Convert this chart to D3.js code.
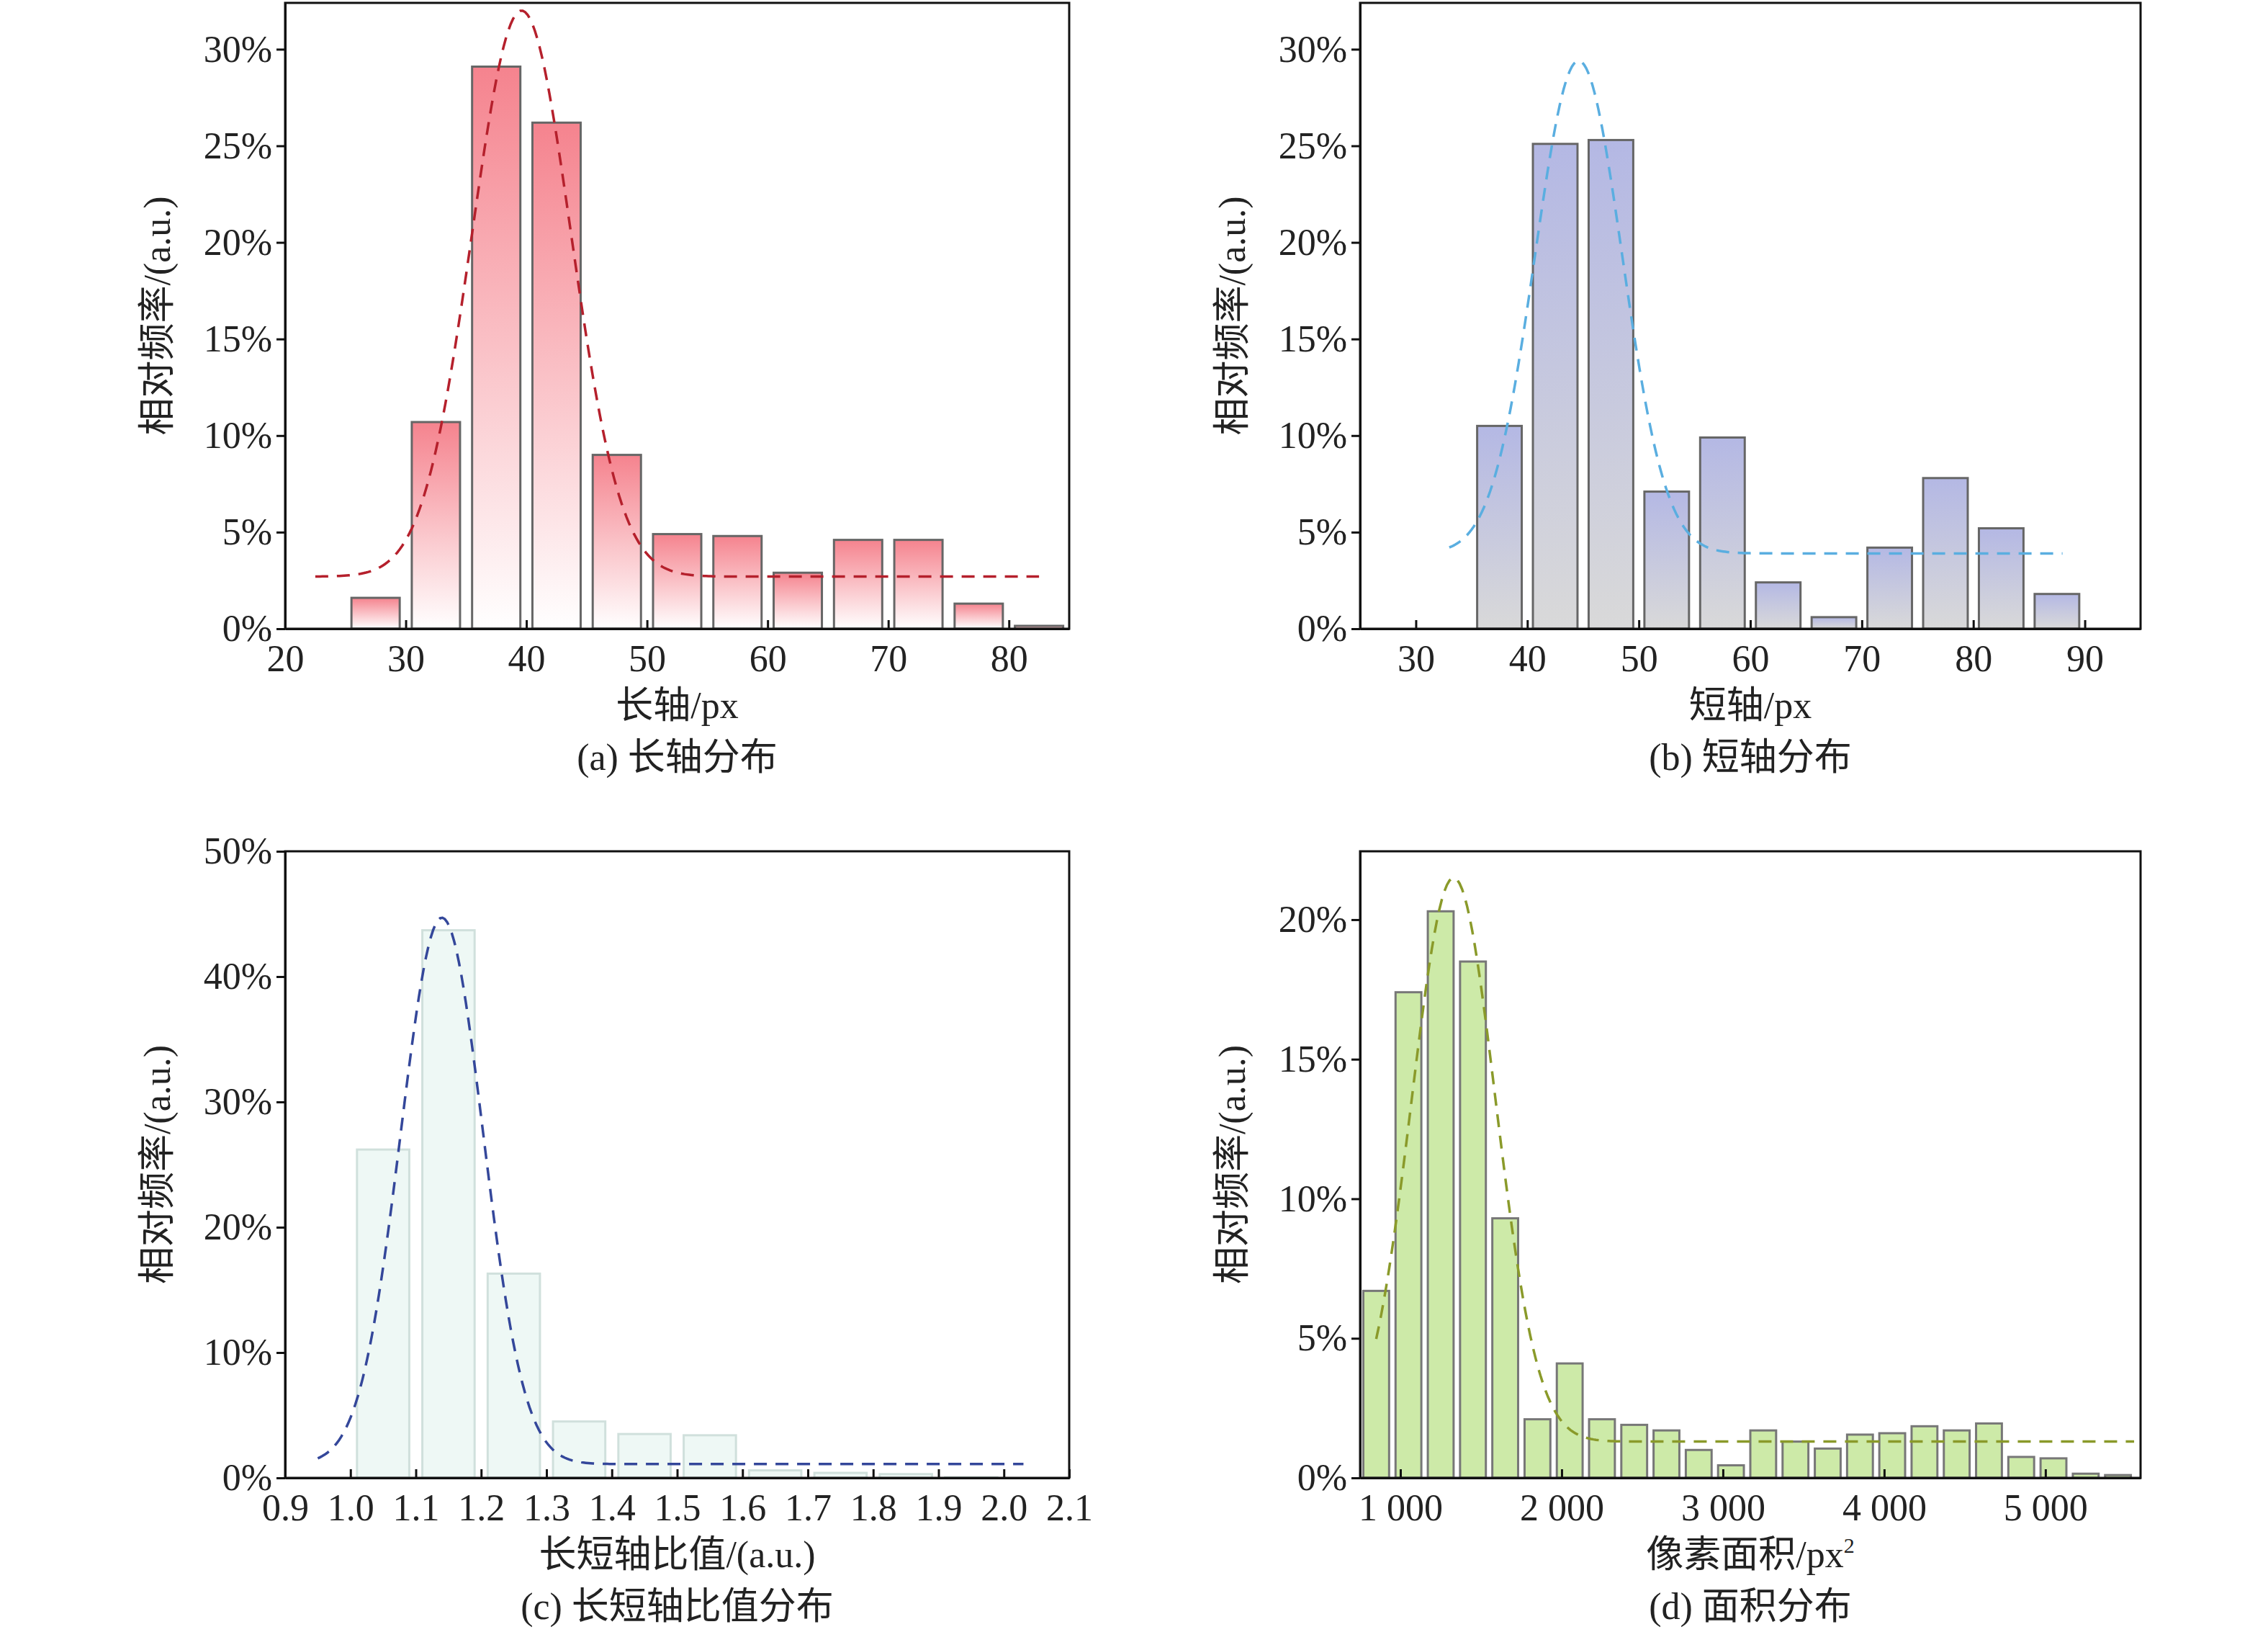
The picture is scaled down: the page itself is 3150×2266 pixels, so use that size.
<!DOCTYPE html>
<html><head><meta charset="utf-8">
<script src="https://cdn.jsdelivr.net/npm/d3@7"></script>
<style>body{margin:0;background:#fff}text{font-family:"Liberation Serif","Noto Sans CJK SC",serif;fill:#222}</style>
</head><body>
<svg id="c" width="3150" height="2266"></svg>
<script>
// relative frequency (%) per bin
const longStart = 25, longBin = 5;
const longVals = [1.6, 10.7, 29.1, 26.2, 9.0, 4.9, 4.8, 2.9, 4.6, 4.6, 1.3, 0.15];
const shortStart = 35, shortBin = 5;
const shortVals = [10.5, 25.1, 25.3, 7.1, 9.9, 2.4, 0.6, 4.2, 7.8, 5.2, 1.8];
const ratioStart = 1.0, ratioBin = 0.1;
const ratioVals = [26.2, 43.7, 16.3, 4.5, 3.5, 3.4, 0.6, 0.4, 0.3, 0.05];
const areaStart = 750, areaBin = 200;
const areaVals = [6.7, 17.4, 20.3, 18.5, 9.3, 2.1, 4.1, 2.1, 1.9, 1.7, 1.0, 0.45, 1.7, 1.3, 1.05, 1.55, 1.6, 1.85, 1.7, 1.95, 0.75, 0.7, 0.15, 0.1];
// fitted curves: [peak, centre, sigma, baseline, from, to]
const longFit = [29.3, 39.6, 4.1, 2.7, 22.5, 82.5];
const shortFit = [25.5, 44.6, 3.9, 3.9, 33, 88];
const ratioFit = [43.6, 1.14, 0.063, 1.1, 0.95, 2.03];
const areaFit = [20.2, 1330, 260, 1.3, 850, 5550];
const longTicks = [20, 30, 40, 50, 60, 70, 80];
const shortTicks = [30, 40, 50, 60, 70, 80, 90];
const ratioTicks = [0.9, 1.0, 1.1, 1.2, 1.3, 1.4, 1.5, 1.6, 1.7, 1.8, 1.9, 2.0, 2.1];
const areaTicks = [1000, 2000, 3000, 4000, 5000];

const svg = d3.select("#c");
const defs = svg.append("defs");
function grad(id, top, bot) {
  const g = defs.append("linearGradient").attr("id", id).attr("x1", 0).attr("y1", 0).attr("x2", 0).attr("y2", 1);
  g.append("stop").attr("offset", 0).attr("stop-color", top);
  g.append("stop").attr("offset", 1).attr("stop-color", bot);
}
grad("gA", "#f5838e", "#ffffff");
grad("gB", "#b4b8e4", "#d9d9d9");

function panel(o) {
  const x = d3.scaleLinear().domain(o.xd).range([o.l, o.r]);
  const y = d3.scaleLinear().domain([0, o.ymax]).range([o.b, o.t]);
  const g = svg.append("g");
  const bars = o.vals.map((v, i) => ({x0: o.start + i * o.bin, v}));
  const gap = o.bin * o.gap;
  g.selectAll("rect.bar").data(bars).join("rect")
    .attr("x", d => x(d.x0 + gap / 2)).attr("width", d => x(d.x0 + o.bin - gap / 2) - x(d.x0 + gap / 2))
    .attr("y", d => y(d.v)).attr("height", d => o.b - y(d.v))
    .attr("fill", o.fill).attr("stroke", o.stroke).attr("stroke-width", 3);
  const f = o.fit;
  const pts = d3.range(f[4], f[5], (f[5] - f[4]) / 300).concat([f[5]]);
  g.append("path").datum(pts)
    .attr("d", d3.line().x(d => x(d)).y(d => y(f[3] + f[0] * Math.exp(-((d - f[1]) ** 2) / (2 * f[2] * f[2])))))
    .attr("fill", "none").attr("stroke", o.curve).attr("stroke-width", 3.5).attr("stroke-dasharray", "18,12");
  g.append("rect").attr("x", o.l).attr("y", o.t).attr("width", o.r - o.l).attr("height", o.b - o.t)
    .attr("fill", "none").attr("stroke", "#111").attr("stroke-width", 3);
  const xa = g.append("g").attr("transform", `translate(0,${o.b})`)
    .call(d3.axisBottom(x).tickValues(o.xt).tickSizeInner(-12).tickSizeOuter(0).tickPadding(22).tickFormat(o.xf));
  const ya = g.append("g").attr("transform", `translate(${o.l},0)`)
    .call(d3.axisLeft(y).tickValues(o.yt).tickSizeInner(12).tickSizeOuter(0).tickPadding(6).tickFormat(d => d + "%"));
  [xa, ya].forEach(a => {
    a.select(".domain").attr("stroke", "#111").attr("stroke-width", 3);
    a.selectAll(".tick line").attr("stroke", "#111").attr("stroke-width", 3);
    a.selectAll("text").style("font-size", "52px").attr("fill", "#222");
  });
  const cx = (o.l + o.r) / 2;
  const xl = g.append("text").attr("x", cx).attr("y", o.b + 124).attr("text-anchor", "middle").style("font-size", "52px").text(o.xlab);
  if (o.sup) xl.append("tspan").attr("dy", -20).style("font-size", "30px").text(o.sup);
  g.append("text").attr("x", cx).attr("y", o.b + 196).attr("text-anchor", "middle").style("font-size", "52px").text(o.cap);
  g.append("text").attr("transform", `translate(${o.l - 160},${(o.t + o.b) / 2}) rotate(-90)`)
    .attr("text-anchor", "middle").style("font-size", "52px").text("相对频率/(a.u.)");
}

panel({l: 396, r: 1485, t: 4, b: 873, xd: [20, 85], ymax: 32.4, vals: longVals, start: longStart, bin: longBin, gap: 0.2,
  fill: "url(#gA)", stroke: "#666", curve: "#b5202c", fit: longFit, xt: longTicks, yt: [0, 5, 10, 15, 20, 25, 30],
  xf: d3.format("d"), xlab: "长轴/px", cap: "(a) 长轴分布"});
panel({l: 1889, r: 2973, t: 4, b: 873, xd: [25, 95], ymax: 32.4, vals: shortVals, start: shortStart, bin: shortBin, gap: 0.2,
  fill: "url(#gB)", stroke: "#666", curve: "#5aaee0", fit: shortFit, xt: shortTicks, yt: [0, 5, 10, 15, 20, 25, 30],
  xf: d3.format("d"), xlab: "短轴/px", cap: "(b) 短轴分布"});
panel({l: 396, r: 1485, t: 1182, b: 2052, xd: [0.9, 2.1], ymax: 50, vals: ratioVals, start: ratioStart, bin: ratioBin, gap: 0.2,
  fill: "#eef8f5", stroke: "#d0e0dc", curve: "#34479a", fit: ratioFit, xt: ratioTicks, yt: [0, 10, 20, 30, 40, 50],
  xf: d3.format(".1f"), xlab: "长短轴比值/(a.u.)", cap: "(c) 长短轴比值分布"});
panel({l: 1889, r: 2973, t: 1182, b: 2052, xd: [750, 5590], ymax: 22.45, vals: areaVals, start: areaStart, bin: areaBin, gap: 0.2,
  fill: "#cdeaa8", stroke: "#777", curve: "#8a9a2a", fit: areaFit, xt: areaTicks, yt: [0, 5, 10, 15, 20],
  xf: d => d3.format(",")(d).replace(",", " "), xlab: "像素面积/px", sup: "2", cap: "(d) 面积分布"});
</script>
</body></html>
